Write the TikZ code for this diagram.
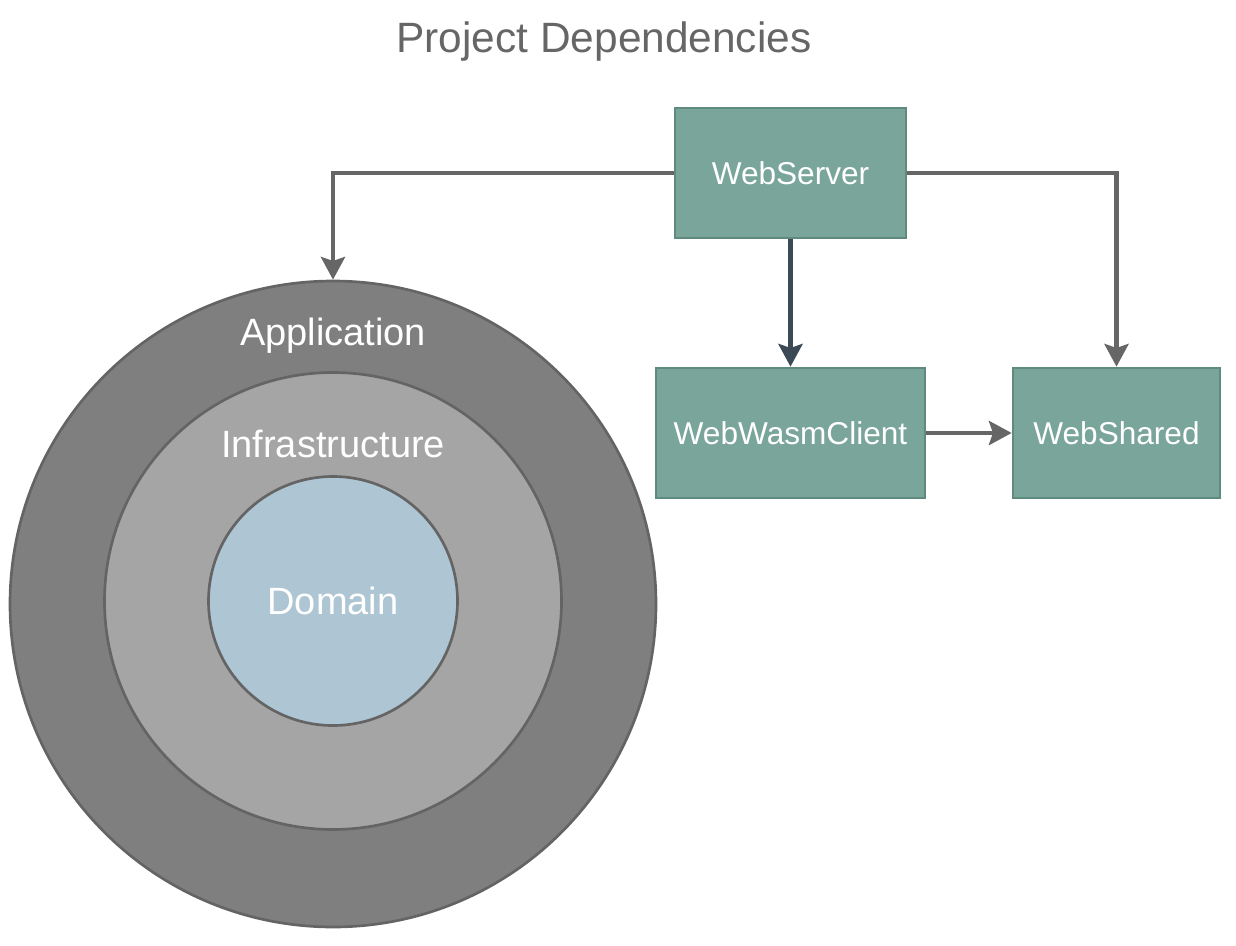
\documentclass[tikz,border=0pt]{standalone}
\usepackage{fontspec}
\setmainfont{Liberation Sans}
\usetikzlibrary{arrows.meta}
\definecolor{outerc}{HTML}{7F7F7F}
\definecolor{midc}{HTML}{A5A5A5}
\definecolor{innerc}{HTML}{AEC6D3}
\definecolor{ringline}{HTML}{646464}
\definecolor{boxfill}{HTML}{7AA59A}
\definecolor{boxline}{HTML}{5F8A7E}
\definecolor{arrgray}{HTML}{666666}
\definecolor{arrdark}{HTML}{3C4A57}
\definecolor{titlec}{HTML}{666666}
\tikzset{
  ring/.style={circle, draw=ringline, line width=2pt, inner sep=0pt},
  projbox/.style={draw=boxline, fill=boxfill, line width=2pt, inner sep=0pt,
    minimum height=97.5pt, text=white, font=\fontsize{23.7}{28}\selectfont},
  ringlabel/.style={text=white, font=\fontsize{28.5}{34}\selectfont, inner sep=0pt},
  dep/.style={draw=arrgray, line width=3.6pt,
    -{Stealth[length=17pt,width=18pt,inset=3pt]}},
  depdark/.style={dep, draw=arrdark, fill=arrdark},
}
\begin{document}
\begin{tikzpicture}[x=0.75pt,y=-0.75pt]
\useasboundingbox (0,0) rectangle (1236,946);
% title
\node[text=titlec, font=\fontsize{31.8}{38}\selectfont, inner sep=0pt] (title) at (604,42) {Project Dependencies};
% rings
\node[ring, fill=outerc, minimum size=484.5pt] (app) at (333,604) {};
\node[ring, fill=midc, minimum size=342.75pt] (infra) at (333,601) {};
\node[ring, fill=innerc, minimum size=186.75pt] (dom) at (333,601) {};
\node[ringlabel] (applbl) at (333,336) {Application};
\node[ringlabel] (infralbl) at (333,444) {Infrastructure};
\node[ringlabel] (domlbl) at (333,601) {Domain};
% boxes
\node[projbox, minimum width=173.25pt] (ws) at (790.5,173) {WebServer};
\node[projbox, minimum width=201.75pt] (wwc) at (790.5,433) {WebWasmClient};
\node[projbox, minimum width=155.25pt] (wsh) at (1116.5,433) {WebShared};
% connectors
\draw[dep] (ws.west) -| (app.north);
\draw[dep] (ws.east) -| (wsh.north);
\draw[depdark] (ws.south) -- (wwc.north);
\draw[dep] (wwc.east) -- (wsh.west);
\end{tikzpicture}
\end{document}
